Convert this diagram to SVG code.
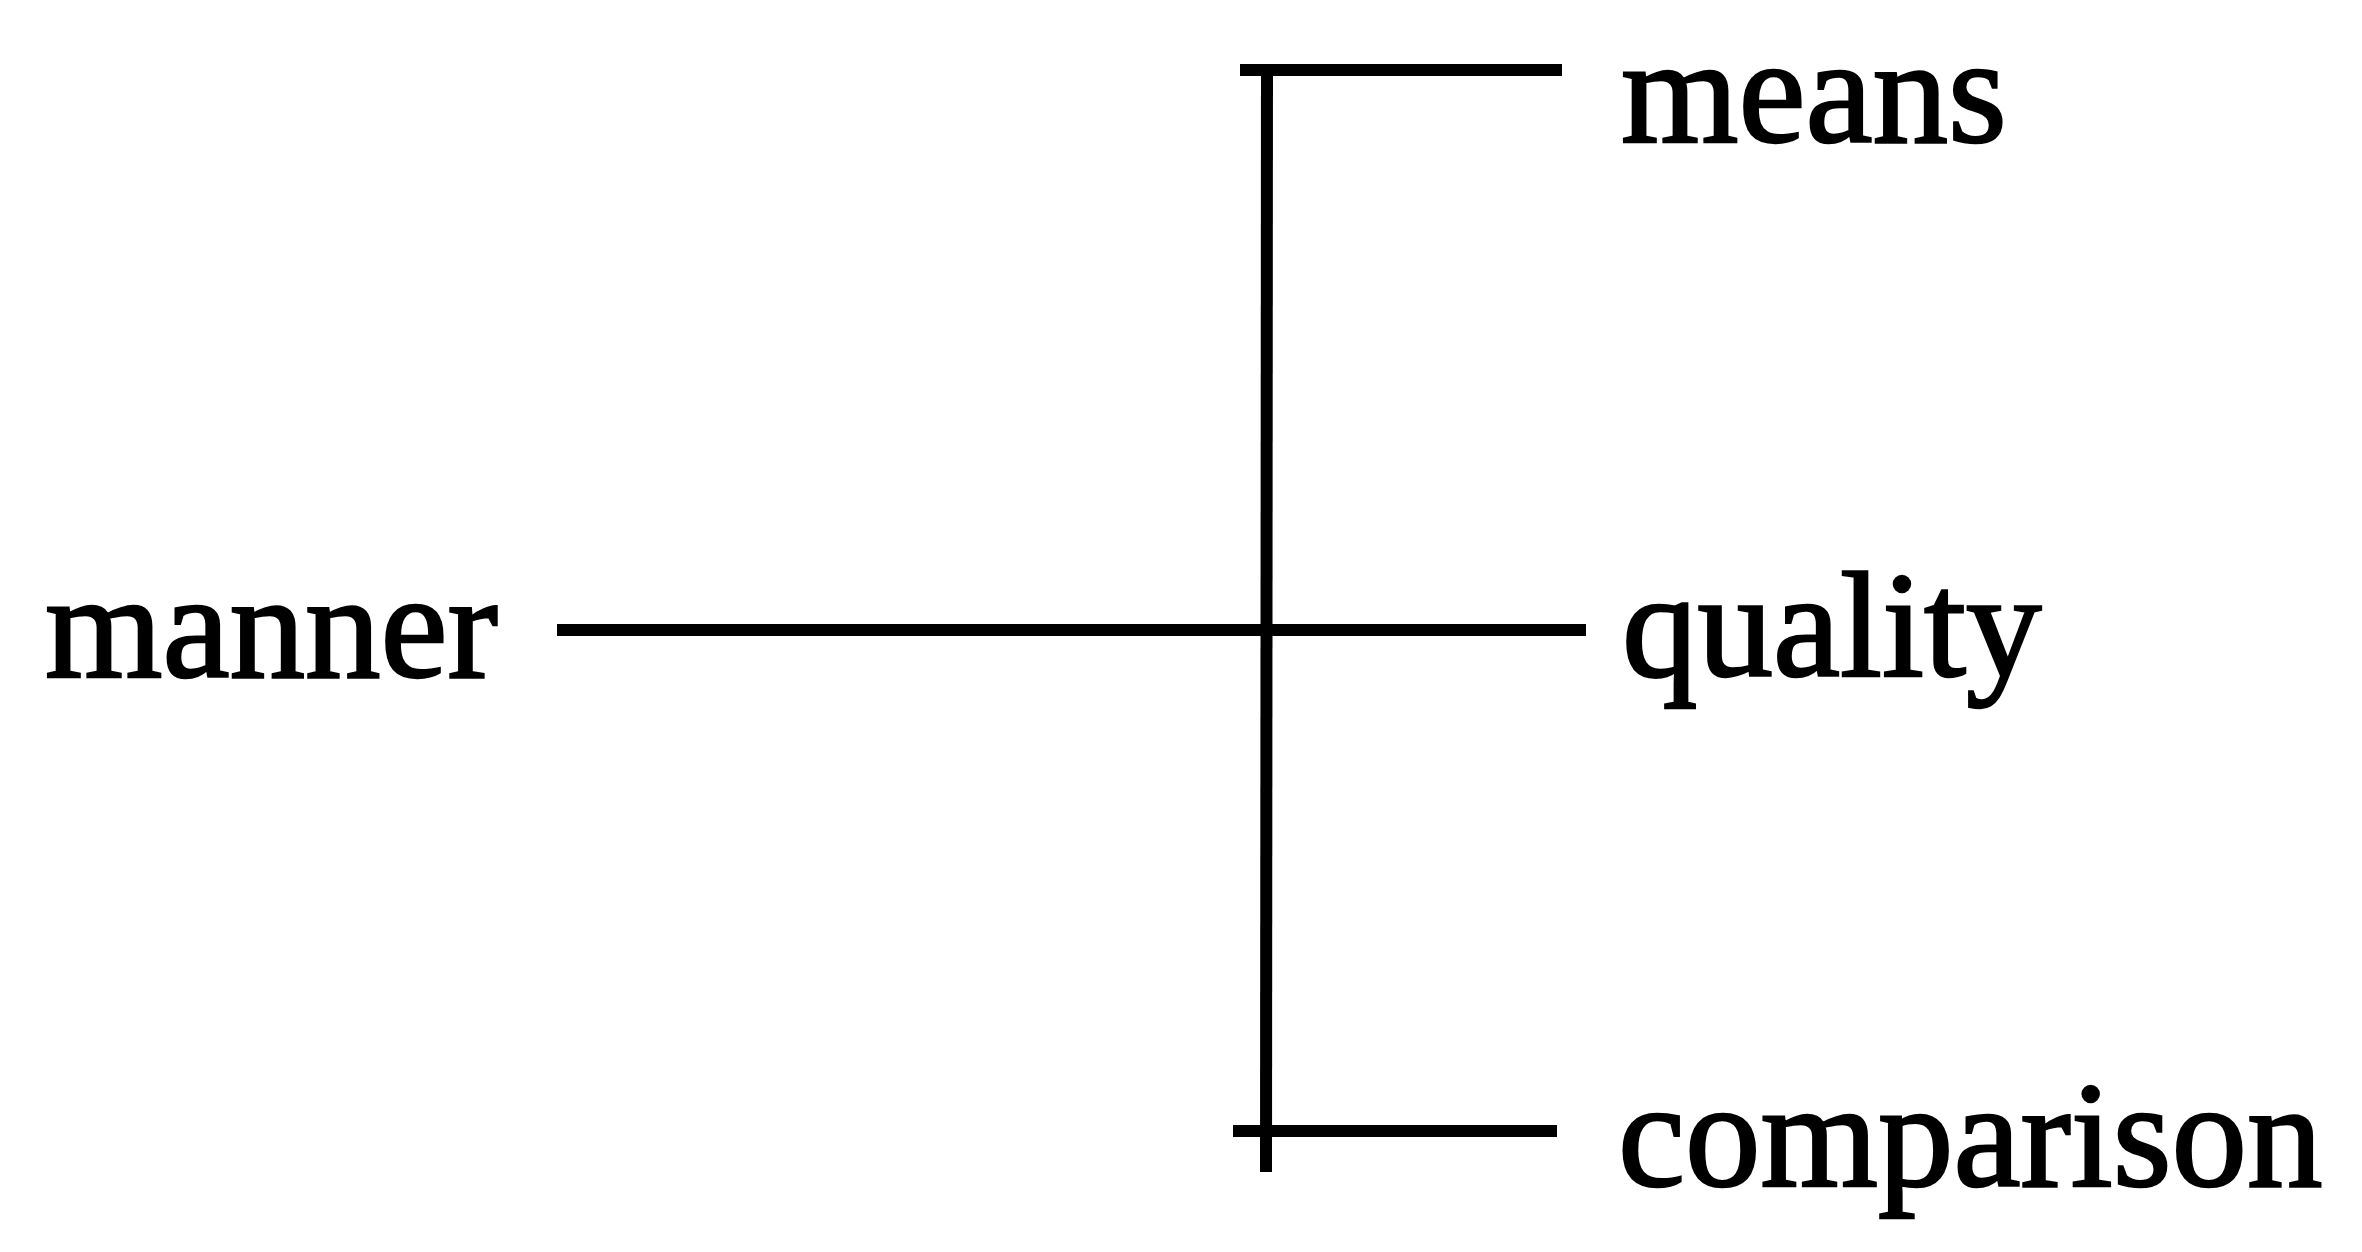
<svg xmlns="http://www.w3.org/2000/svg" width="2362" height="1252" viewBox="0 0 2362 1252">
<style>
.lbl{font-family:"Liberation Serif","Times New Roman",serif;font-size:151px;fill:#000;stroke:#000;stroke-width:2.5}
.ln{stroke:#000;stroke-width:12;fill:none;stroke-linecap:butt}
</style>
<rect width="2362" height="1252" fill="#fff"/>
<g id="connectors">
<line class="ln" x1="1267" y1="64" x2="1266" y2="1172"/>
<line class="ln" x1="1240" y1="70" x2="1562" y2="70"/>
<line class="ln" x1="557" y1="630" x2="1586" y2="630"/>
<line class="ln" x1="1233" y1="1131" x2="1557" y2="1131"/>
</g>
<g id="node-manner"><text class="lbl" x="45" y="677">manner</text></g>
<g id="node-means"><text class="lbl" x="1621" y="142">means</text></g>
<g id="node-quality"><text class="lbl" x="1622" y="676">quality</text></g>
<g id="node-comparison"><text class="lbl" x="1618" y="1186">comparison</text></g>
</svg>
